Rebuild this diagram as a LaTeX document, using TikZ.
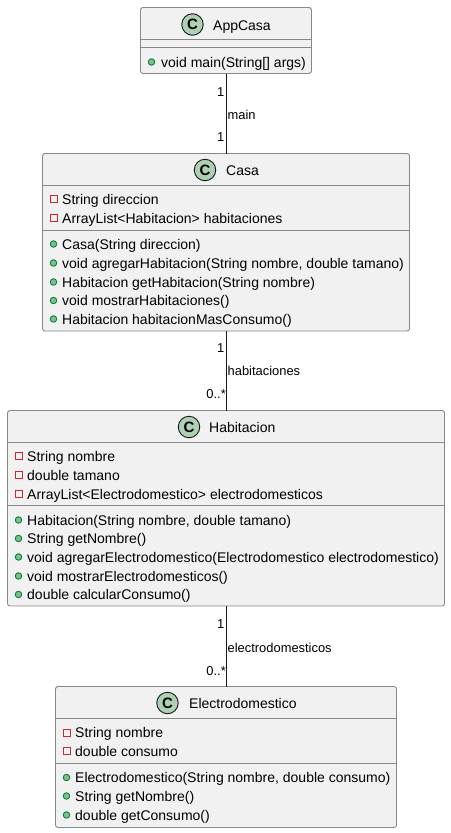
\documentclass[tikz,border=0pt]{standalone}
\usepackage{fontspec}
\setmainfont{Liberation Sans}
\definecolor{boxfill}{HTML}{F1F1F1}
\definecolor{boxline}{HTML}{888888}
\definecolor{iconfill}{HTML}{ADD1B2}
\definecolor{privline}{HTML}{C82930}
\definecolor{pubfill}{HTML}{84BE84}
\definecolor{publine}{HTML}{038048}
\definecolor{inkc}{HTML}{181818}
\tikzset{
  classbox/.style={draw=boxline,fill=boxfill,rounded corners=2.5pt,line width=.9pt,inner sep=0pt},
  sepline/.style={draw=boxline,line width=.9pt},
  link/.style={draw=inkc,line width=.8pt},
  classicon/.style={circle,draw=inkc,fill=iconfill,line width=.9pt,minimum size=21.5pt,inner sep=0pt,text=black,font=\fontsize{15}{15}\selectfont\bfseries},
  titletext/.style={anchor=base west,inner sep=0pt,text=black,font=\fontsize{14}{14}\selectfont},
  rowtext/.style={anchor=base west,inner sep=0pt,text=black,font=\fontsize{14}{14}\selectfont},
  smalltext/.style={inner sep=0pt,text=black,font=\fontsize{12.9}{13}\selectfont},
  priv/.style={rectangle,draw=privline,line width=.9pt,minimum size=7pt,inner sep=0pt},
  pub/.style={circle,draw=publine,fill=pubfill,line width=.9pt,minimum size=6.5pt,inner sep=0pt}
}
\newcommand{\privrow}[4]{% icon x, text x, y, text
  \node[priv] at (#1,#3) {};
  \node[rowtext] at (#2,#3+5) {#4};
}
\newcommand{\pubrow}[4]{%
  \node[pub] at (#1,#3) {};
  \node[rowtext] at (#2,#3+5) {#4};
}
\begin{document}
\begin{tikzpicture}[x=1pt,y=-1pt]
\useasboundingbox (0,0) rectangle (450,833);
% AppCasa
\path[classbox] (140.5,7.5) rectangle (311.5,73.5);
\coordinate (appS) at (226.3,73.5);
\draw[sepline] (140.5,39.5) -- (311.5,39.5);
\draw[sepline] (140.5,47.5) -- (311.5,47.5);
\node[classicon] (appI) at (192.5,24.5) {C};
\node[titletext] (appT) at (213,30) {AppCasa};
\pubrow{151.5}{161}{62}{void main(String[] args)}
% Casa
\path[classbox] (42.5,153.5) rectangle (409.5,331);
\coordinate (casaN) at (226.3,153.5);
\coordinate (casaS) at (226.3,331);
\draw[sepline] (42.5,185.5) -- (409.5,185.5);
\draw[sepline] (42.5,230) -- (409.5,230);
\node[classicon] (casaI) at (205,170) {C};
\node[titletext] (casaT) at (226,175.5) {Casa};
\privrow{53.5}{62}{199}{String direccion}
\privrow{53.5}{62}{218}{ArrayList<Habitacion> habitaciones}
\pubrow{53.5}{62}{244}{Casa(String direccion)}
\pubrow{53.5}{62}{263}{void agregarHabitacion(String nombre, double tamano)}
\pubrow{53.5}{62}{282}{Habitacion getHabitacion(String nombre)}
\pubrow{53.5}{62}{300.5}{void mostrarHabitaciones()}
\pubrow{53.5}{62}{319}{Habitacion habitacionMasConsumo()}
% Habitacion
\path[classbox] (7.5,410.5) rectangle (444.5,606);
\coordinate (habN) at (226.3,410.5);
\coordinate (habS) at (226.3,606);
\draw[sepline] (7.5,442.5) -- (444.5,442.5);
\draw[sepline] (7.5,505.5) -- (444.5,505.5);
\node[classicon] (habI) at (189,427) {C};
\node[titletext] (habT) at (209,432.5) {Habitacion};
\privrow{18.5}{27}{456}{String nombre}
\privrow{18.5}{27}{475}{double tamano}
\privrow{18.5}{27}{494}{ArrayList<Electrodomestico> electrodomesticos}
\pubrow{18.5}{27}{520}{Habitacion(String nombre, double tamano)}
\pubrow{18.5}{27}{538.5}{String getNombre()}
\pubrow{18.5}{27}{557}{void agregarElectrodomestico(Electrodomestico electrodomestico)}
\pubrow{18.5}{27}{576}{void mostrarElectrodomesticos()}
\pubrow{18.5}{27}{594.5}{double calcularConsumo()}
% Electrodomestico
\path[classbox] (55.5,686.5) rectangle (396.5,827.5);
\coordinate (eleN) at (226.3,686.5);
\draw[sepline] (55.5,718.5) -- (396.5,718.5);
\draw[sepline] (55.5,763) -- (396.5,763);
\node[classicon] (eleI) at (167.5,703) {C};
\node[titletext] (eleT) at (189,708.5) {Electrodomestico};
\privrow{66.5}{75}{732.5}{String nombre}
\privrow{66.5}{75}{751}{double consumo}
\pubrow{66.5}{75}{777.5}{Electrodomestico(String nombre, double consumo)}
\pubrow{66.5}{75}{796}{String getNombre()}
\pubrow{66.5}{75}{815}{double getConsumo()}
% Links
\draw[link] (appS) -- (casaN);
\draw[link] (casaS) -- (habN);
\draw[link] (habS) -- (eleN);
\node[smalltext,anchor=east] (m1) at (224.5,92) {1};
\node[smalltext,anchor=west] (m2) at (227.5,115) {main};
\node[smalltext,anchor=east] (m3) at (224.5,137.5) {1};
\node[smalltext,anchor=east] (h1) at (224.5,348) {1};
\node[smalltext,anchor=west] (h2) at (227.5,371) {habitaciones};
\node[smalltext,anchor=east] (h3) at (226,394.5) {0..*};
\node[smalltext,anchor=east] (e1) at (224.5,624) {1};
\node[smalltext,anchor=west] (e2) at (227.5,647.5) {electrodomesticos};
\node[smalltext,anchor=east] (e3) at (226,671) {0..*};
\end{tikzpicture}
\end{document}
